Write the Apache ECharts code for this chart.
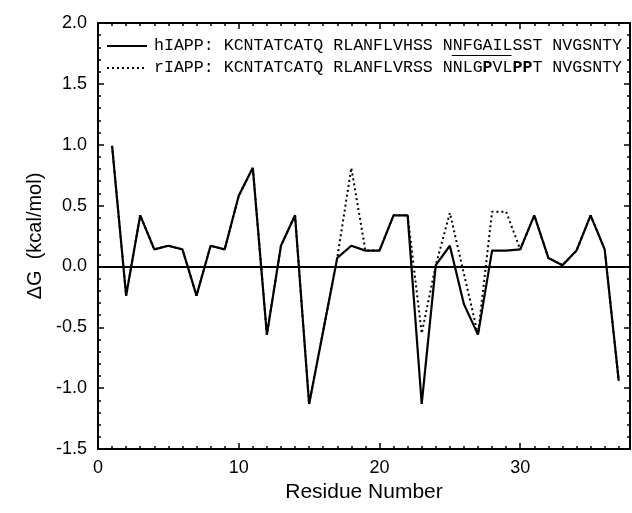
<!DOCTYPE html>
<html>
<head>
<meta charset="utf-8">
<script src="https://cdn.jsdelivr.net/npm/echarts@6/dist/echarts.min.js"></script>
<style>
  html, body { margin: 0; padding: 0; background: #fff; }
  #main { width: 632px; height: 513px; }
</style>
</head>
<body>
<div id="main"></div>
<script>
// residue numbers along the peptide
const residues = [1, 2, 3, 4, 5, 6, 7, 8, 9, 10, 11, 12, 13, 14, 15, 16, 17, 18, 19, 20,
                  21, 22, 23, 24, 25, 26, 27, 28, 29, 30, 31, 32, 33, 34, 35, 36, 37];
// deltaG (kcal/mol) per residue
const hIAPP = [0.99, -0.24, 0.42, 0.14, 0.17, 0.14, -0.24, 0.17, 0.14, 0.58,
               0.81, -0.56, 0.17, 0.42, -1.13, -0.53, 0.07, 0.17, 0.13, 0.13,
               0.42, 0.42, -1.13, 0.01, 0.17, -0.31, -0.56, 0.13, 0.13, 0.14,
               0.42, 0.07, 0.01, 0.13, 0.42, 0.14, -0.94];
const rIAPP = [0.99, -0.24, 0.42, 0.14, 0.17, 0.14, -0.24, 0.17, 0.14, 0.58,
               0.81, -0.56, 0.17, 0.42, -1.13, -0.53, 0.07, 0.81, 0.13, 0.13,
               0.42, 0.42, -0.55, 0.01, 0.44, -0.06, -0.56, 0.45, 0.45, 0.14,
               0.42, 0.07, 0.01, 0.13, 0.42, 0.14, -0.94];
const legendText = {
    hIAPP: 'hIAPP: KCNTATCATQ RLANFLVHSS NNFGAILSST NVGSNTY',
    rIAPP: 'rIAPP: KCNTATCATQ RLANFLVRSS NNLG{b|P}VL{b|PP}T NVGSNTY'
};

const mono = "'Courier New', 'Liberation Mono', monospace";
const sans = "Arial, 'Liberation Sans', sans-serif";
const monoSize = 16.6;
const charW = monoSize * 0.6;
const legendLeft = 106, legendTop = 36, iconW = 40, textPad = 7;

const chart = echarts.init(document.getElementById('main'));

const pairs = arr => arr.map((v, i) => [residues[i], v]);

const xMajor = (pos, labels) => ({
    type: 'value', position: pos, min: 0, max: 37.8, interval: 10,
    axisLine: { show: true, onZero: false, lineStyle: { color: '#000', width: 2 } },
    axisTick: { show: true, inside: true, length: 6, lineStyle: { color: '#000', width: 1.5 } },
    axisLabel: { show: labels, showMaxLabel: false, color: '#000', fontSize: 18, fontFamily: sans, margin: 10 },
    splitLine: { show: false },
    name: labels ? 'Residue Number' : '',
    nameLocation: 'middle', nameGap: 33,
    nameTextStyle: { color: '#000', fontSize: 21, fontFamily: sans }
});
const xMinor = pos => ({
    type: 'value', position: pos, min: 0, max: 37.8, interval: 1,
    axisLine: { show: false, onZero: false },
    axisTick: { show: true, inside: true, length: 3, lineStyle: { color: '#000', width: 1.5 } },
    axisLabel: { show: false },
    splitLine: { show: false }
});
const yAxis = (pos, labels) => ({
    type: 'value', position: pos, min: -1.5, max: 2.0, interval: 0.5,
    axisLine: { show: true, onZero: false, lineStyle: { color: '#000', width: 2 } },
    axisTick: { show: true, inside: true, length: 6, lineStyle: { color: '#000', width: 1.5 } },
    minorTick: { show: true, splitNumber: 5, length: 3, lineStyle: { color: '#000', width: 1.5 } },
    axisLabel: { show: labels, color: '#000', fontSize: 18, fontFamily: sans, margin: 11,
                 formatter: v => v.toFixed(1) },
    splitLine: { show: false },
    name: labels ? '\u0394G  (kcal/mol)' : '',
    nameLocation: 'middle', nameGap: 50, nameRotate: 90,
    nameTextStyle: { color: '#000', fontSize: 20, fontFamily: sans }
});

chart.setOption({
    animation: false,
    backgroundColor: '#fff',
    grid: { left: 98, right: 2, top: 23, bottom: 64 },
    xAxis: [xMajor('bottom', true), xMajor('top', false), xMinor('bottom'), xMinor('top')],
    yAxis: [yAxis('left', true), yAxis('right', false)],
    legend: {
        data: ['hIAPP', 'rIAPP'],
        orient: 'vertical',
        left: legendLeft, top: legendTop, padding: 0,
        itemWidth: iconW, itemHeight: 14, itemGap: 2,
        selectedMode: false,
        itemStyle: { opacity: 0 },
        formatter: name => legendText[name],
        textStyle: {
            color: '#000', fontFamily: mono, fontSize: monoSize, lineHeight: 20,
            padding: [0, 0, 0, textPad - 5],
            rich: { b: { fontFamily: mono, fontSize: monoSize, fontWeight: 'bold', color: '#000' } }
        }
    },
    graphic: [{
        type: 'line', silent: true,
        shape: {
            x1: legendLeft + iconW + textPad + 30 * charW, y1: legendTop + 19.5,
            x2: legendLeft + iconW + textPad + 36 * charW, y2: legendTop + 19.5
        },
        style: { stroke: '#000', lineWidth: 1.2 }
    }],
    series: [
        {
            name: 'rIAPP', type: 'line', data: pairs(rIAPP), symbol: 'none',
            lineStyle: { color: '#000', width: 2, type: [2, 3] },
            itemStyle: { color: '#000' }
        },
        {
            name: 'hIAPP', type: 'line', data: pairs(hIAPP), symbol: 'none',
            lineStyle: { color: '#000', width: 2.2, type: 'solid' },
            itemStyle: { color: '#000' },
            markLine: {
                silent: true, symbol: 'none', label: { show: false },
                lineStyle: { color: '#000', width: 2, type: 'solid' },
                data: [{ yAxis: 0 }]
            }
        }
    ]
});
</script>
</body>
</html>
